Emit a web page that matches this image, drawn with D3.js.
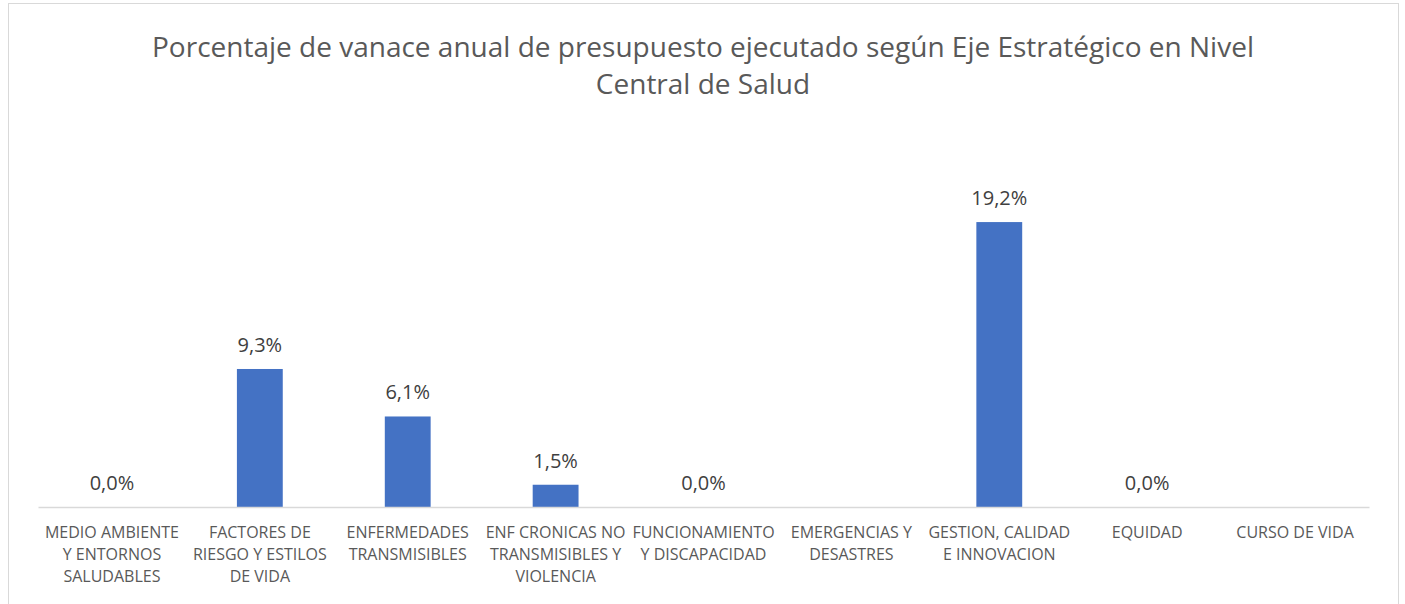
<!DOCTYPE html>
<html lang="es">
<head>
<meta charset="utf-8">
<title>Porcentaje de avance anual</title>
<script src="https://cdn.jsdelivr.net/npm/d3@7"></script>
<style>
  body { margin: 0; background: #fff; }
  text { font-family: "Open Sans", Lato, sans-serif; }
</style>
</head>
<body>
<script>
// categorias (lineas tal como aparecen en el eje)
var categories = [
  ["MEDIO AMBIENTE", "Y ENTORNOS", "SALUDABLES"],
  ["FACTORES DE", "RIESGO Y ESTILOS", "DE VIDA"],
  ["ENFERMEDADES", "TRANSMISIBLES"],
  ["ENF CRONICAS NO", "TRANSMISIBLES Y", "VIOLENCIA"],
  ["FUNCIONAMIENTO", "Y DISCAPACIDAD"],
  ["EMERGENCIAS Y", "DESASTRES"],
  ["GESTION, CALIDAD", "E INNOVACION"],
  ["EQUIDAD"],
  ["CURSO DE VIDA"]
];
var values = [0.0, 9.3, 6.1, 1.5, 0.0, null, 19.2, 0.0, null];
var titleLines = [
  "Porcentaje de vanace anual de presupuesto ejecutado según Eje Estratégico en Nivel",
  "Central de Salud"
];

var w = 1405, h = 604;
var svg = d3.select("body").append("svg").attr("width", w).attr("height", h);

// marco del grafico
svg.append("rect")
  .attr("x", 8.5).attr("y", 3.5)
  .attr("width", 1390).attr("height", 640)
  .attr("fill", "#fff").attr("stroke", "#d9d9d9");

svg.selectAll("text.title")
  .data(titleLines)
  .enter().append("text")
  .attr("class", "title")
  .attr("x", 703)
  .attr("y", function(d, i) { return 57 + i * 37; })
  .attr("text-anchor", "middle")
  .attr("font-size", "28px")
  .attr("fill", "#595959")
  .text(function(d) { return d; });

var x = d3.scaleBand()
  .domain(d3.range(categories.length))
  .range([38, 1369])
  .paddingInner(0.69)
  .paddingOuter(0.345);

var y = d3.scaleLinear().domain([0, 25]).range([507, 136]);

var pts = values.map(function(v, i) { return { i: i, v: v }; })
  .filter(function(d) { return d.v !== null; });

svg.selectAll("rect.bar")
  .data(pts)
  .enter().append("rect")
  .attr("class", "bar")
  .attr("x", function(d) { return x(d.i); })
  .attr("y", function(d) { return y(d.v); })
  .attr("width", x.bandwidth())
  .attr("height", function(d) { return y(0) - y(d.v); })
  .attr("fill", "#4472c4");

// etiquetas de valor
svg.selectAll("text.val")
  .data(pts)
  .enter().append("text")
  .attr("class", "val")
  .attr("x", function(d) { return x(d.i) + x.bandwidth() / 2; })
  .attr("y", function(d) { return y(d.v) - 17; })
  .attr("text-anchor", "middle")
  .attr("font-size", "20px")
  .attr("fill", "#404040")
  .text(function(d) { return d.v.toFixed(1).replace(".", ",") + "%"; });

// eje X
var axis = svg.append("g")
  .attr("transform", "translate(0," + y(0) + ")")
  .call(d3.axisBottom(x).tickSize(0).tickFormat(""));
axis.select(".domain").attr("stroke", "#d9d9d9").attr("stroke-width", 1.5);

var lab = svg.selectAll("text.cat")
  .data(categories)
  .enter().append("text")
  .attr("class", "cat")
  .attr("text-anchor", "middle")
  .attr("font-size", "16px")
  .attr("fill", "#595959");
lab.each(function(d, i) {
  var t = d3.select(this);
  d.forEach(function(line, j) {
    t.append("tspan")
      .attr("x", x(i) + x.bandwidth() / 2)
      .attr("y", 538 + j * 22)
      .text(line);
  });
});
</script>
</body>
</html>
